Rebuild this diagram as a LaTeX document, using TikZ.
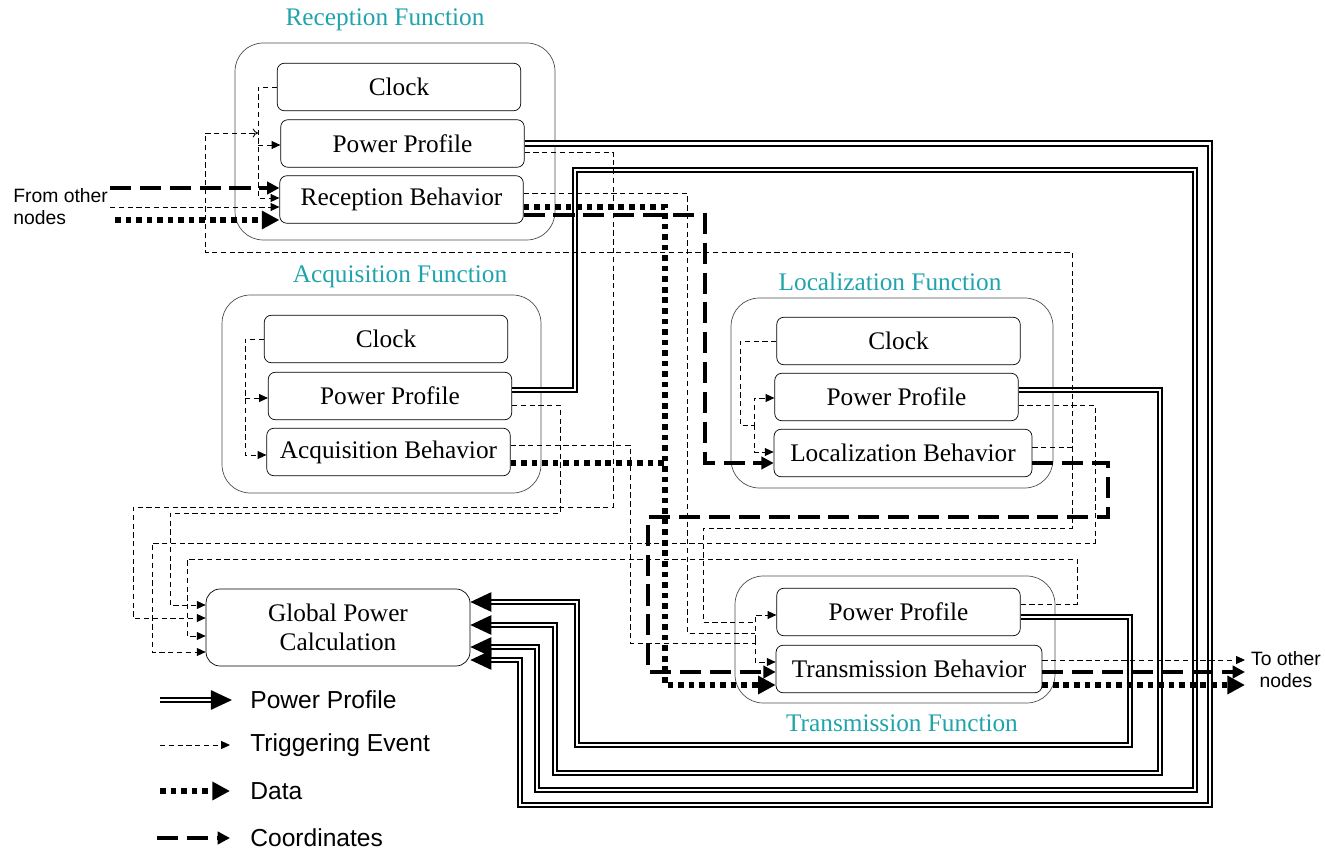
\documentclass[tikz,border=0pt]{standalone}
\usepackage{fontspec}
\setmainfont{Liberation Serif}
\setsansfont{Liberation Sans}
\usepackage{tikz}
\usetikzlibrary{arrows.meta}
\definecolor{functeal}{RGB}{32,164,172}
\tikzset{blk/.style={draw, rounded corners=4pt, minimum width=4.87cm, minimum height=0.95cm,
                     inner sep=0pt, font=\fontsize{14.4}{16.4}\selectfont},
         func/.style={draw=black!70, rounded corners=16pt, inner sep=0pt},
         ttl/.style={text=functeal, inner sep=0pt, font=\fontsize{14.4}{16}\selectfont}}
\tikzset{pwr/.style={double, double distance=1.5pt, line width=1pt, -{Triangle[length=12pt,width=11pt]}},
         trg/.style={line width=0.5pt, dash pattern=on 3pt off 2pt, -{Triangle[length=5pt,width=4.5pt]}},
         dat/.style={line width=3.2pt, dash pattern=on 3.2pt off 2.8pt, -{Triangle[length=10pt,width=10pt]}},
         crd/.style={line width=1.9pt, dash pattern=on 12pt off 5pt, -{Triangle[length=7pt,width=7pt]}},
         lgd/.style={anchor=west, inner sep=0pt, font=\sffamily\fontsize{14}{16}\selectfont}}

\begin{document}
\begin{tikzpicture}[x=0.02cm, y=-0.02cm]
\useasboundingbox (0,0) rectangle (1325,851);
% function blocks
\node[func, minimum width=6.4cm, minimum height=3.94cm] (rFun) at (395,141.5) {};
\node[ttl] (rTtl) at (385,20) {Reception Function};
\node[blk] (rClk) at (399,87) {Clock};
\node[blk] (rPP) at (402.5,143.5) {Power Profile};
\node[blk] (rBeh) at (401.5,199.5) {Reception Behavior};

\node[func, minimum width=6.38cm, minimum height=3.96cm] (aFun) at (381.5,394) {};
\node[ttl] (aTtl) at (400,277) {Acquisition Function};
\node[blk] (aClk) at (386,339) {Clock};
\node[blk] (aPP) at (390,396) {Power Profile};
\node[blk] (aBeh) at (388.5,452) {Acquisition Behavior};

\node[func, minimum width=6.44cm, minimum height=3.8cm] (lFun) at (892,393) {};
\node[ttl] (lTtl) at (890,282) {Localization Function};
\node[blk] (lClk) at (898.5,341) {Clock};
\node[blk] (lPP) at (896.5,397) {Power Profile};
\node[blk, minimum width=5.16cm] (lBeh) at (903,453) {Localization Behavior};

\node[func, minimum width=6.4cm, minimum height=2.54cm] (tFun) at (895,639.5) {};
\node[ttl] (tTtl) at (902,723) {Transmission Function};
\node[blk] (tPP) at (898.5,612) {Power Profile};
\node[blk, minimum width=5.32cm] (tBeh) at (909,669) {Transmission Behavior};

\node[blk, minimum width=5.28cm, minimum height=1.54cm, align=center, rounded corners=8pt] (gpc) at (338,627.5) {Global Power\\Calculation};

% outside world
\node[anchor=west, inner sep=0pt, align=left, font=\sffamily\fontsize{11}{12.5}\selectfont] (fromTxt) at (13,207) {From other\\nodes};
\node[inner sep=0pt, align=center, font=\sffamily\fontsize{11}{12.5}\selectfont] (toTxt) at (1286,670) {To other\\nodes};
\coordinate (fromCrd) at (110,188);
\coordinate (fromTrg) at (110,207);
\coordinate (fromDat) at (115,220);
\coordinate (toTrg) at (1245,660);
\coordinate (toCrd) at (1245,672);
\coordinate (toDat) at (1245,685);

% power profiles
\draw[pwr] (rPP.east) -| (1210,805) -| (520,660) -- (gpc.east |- 0,660);
\draw[pwr] (aPP.east |- 0,390) -| (575,170) -| (1195,790) -| (537,647) -- (gpc.east |- 0,647);
\draw[pwr] (lPP.east |- 0,390) -| (1160,773) -| (555,625) -- (gpc.east |- 0,625);
\draw[pwr] (tPP.east |- 0,617) -| (1130,745) -| (577,602) -- (gpc.east |- 0,602);

% triggering events
\coordinate (rTap) at (258,145);
\coordinate (aTap) at (245,398);
\coordinate (lTap) at (754,425);
\coordinate (tCol) at (755,640);
\draw[trg] (rClk.west) -| (258,198) -- (rBeh.west |- 0,198);
\draw[trg] (rTap) -- (rPP.west |- 0,145);
\draw[trg] (aClk.west) -| (245,455) -- (aBeh.west |- 0,455);
\draw[trg] (aTap) -- (aPP.west |- 0,398);
\draw[trg] (lClk.west) -| (740,425) -| (754,398) -- (lPP.west |- 0,398);
\draw[trg] (lTap) |- (lBeh.west |- 0,452);
\draw[trg, -{To[length=3pt,width=5pt]}] (lBeh.east |- 0,447) -| (1072,252) -| (205,133) -- (rTap |- 0,133);
\draw[trg, -] (1072,447) |- (703,528) |- (755,622);
\draw[trg, -] (rBeh.east |- 0,193) -| (687,633) -- (755,633);
\draw[trg, -] (aBeh.east |- 0,445) -| (630,643) -- (755,643);
\draw[trg] (tCol) |- (tPP.west |- 0,615);
\draw[trg] (tCol) |- (tBeh.west |- 0,662);
\draw[trg] (rPP.east |- 0,152) -| (613,507) -| (133,618) -- (gpc.west |- 0,618);
\draw[trg] (aPP.east |- 0,405) -| (560,513) -| (170,605) -- (gpc.west |- 0,605);
\draw[trg] (lPP.east |- 0,405) -| (1095,543) -| (152,652) -- (gpc.west |- 0,652);
\draw[trg] (tPP.east |- 0,604) -| (1077,559) -| (187,636) -- (gpc.west |- 0,636);
\draw[trg] (fromTrg) -- (rBeh.west |- 0,207);
\draw[trg] (tBeh.east |- 0,660) -- (toTrg);

% coordinates
\draw[crd] (fromCrd) -- (rBeh.west |- 0,188);
\draw[crd] (rBeh.east |- 0,215) -| (705,463) -- (lBeh.west |- 0,463);
\draw[crd] (lBeh.east |- 0,463) -| (1108,517) -| (648,672) -- (tBeh.west |- 0,672);
\draw[crd] (tBeh.east |- 0,672) -- (toCrd);

% data
\draw[dat] (fromDat) -- (rBeh.west |- 0,220);
\draw[dat] (rBeh.east |- 0,207) -| (665,685) -- (tBeh.west |- 0,685);
\draw[dat, -] (aBeh.east |- 0,463) -- (665,463);
\draw[dat] (tBeh.east |- 0,685) -- (toDat);

% legend
\node[lgd] (lgPwr) at (250,700) {Power Profile};
\node[lgd] (lgTrg) at (250,745) {Triggering Event};
\node[lgd] (lgDat) at (250,791) {Data};
\node[lgd] (lgCrd) at (250,838) {Coordinates};
\draw[pwr] ([xshift=-1.8cm]lgPwr.west) -- ([xshift=-0.36cm]lgPwr.west);
\draw[trg] ([xshift=-1.8cm]lgTrg.west) -- ([xshift=-0.4cm]lgTrg.west);
\draw[dat] ([xshift=-1.8cm]lgDat.west) -- ([xshift=-0.4cm]lgDat.west);
\draw[crd] ([xshift=-1.86cm]lgCrd.west) -- ([xshift=-0.4cm]lgCrd.west);
\end{tikzpicture}
\end{document}
